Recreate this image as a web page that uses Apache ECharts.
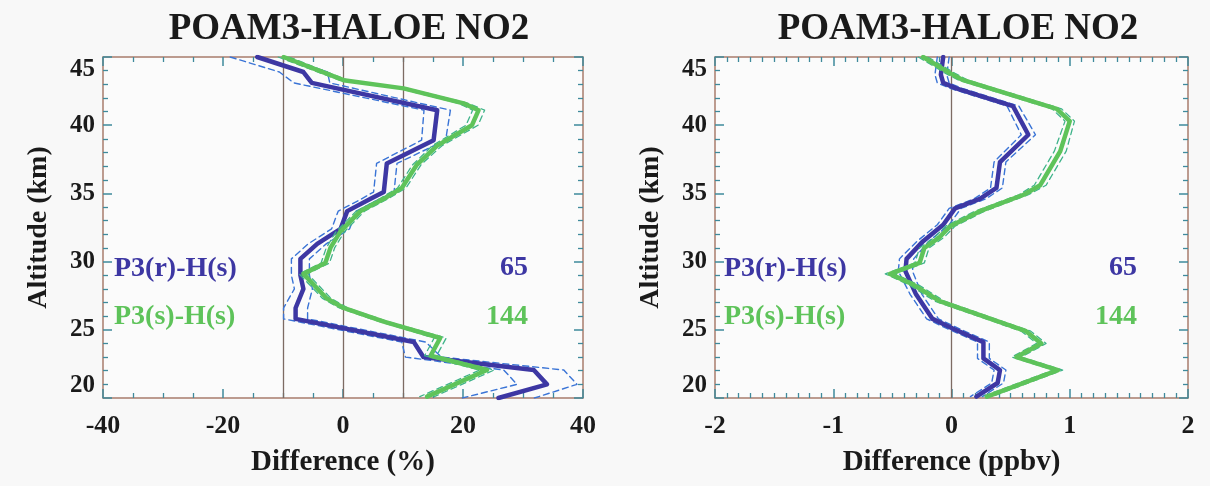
<!DOCTYPE html>
<html><head><meta charset="utf-8">
<script src="https://cdn.jsdelivr.net/npm/echarts@6/dist/echarts.min.js"></script>
<style>html,body{margin:0;padding:0;background:#f8f8f8}#c{width:1210px;height:486px}</style>
</head><body><div id="c"></div>
<script>
// ---------- data ----------
// Left panel: relative difference (%)
const blueAltL = [45.0, 43.9, 43.1, 41.1, 38.9, 37.2, 35.1, 34.6, 33.7, 32.4, 31.3, 30.2, 29.0, 28.0, 26.6, 25.8, 24.1, 23.0, 22.05, 21.0, 20.0];
const blueValL = [-14.3, -6.6, -5.2, 15.7, 15.1, 7.3, 6.8, 4.6, 0.7, -0.4, -4.3, -7.1, -7.1, -6.6, -7.9, -7.9, 11.8, 13.4, 31.8, 34.0, 25.9];
const blueErrL = [4.5, 4.0, 3.0, 2.2, 2.0, 1.7, 1.7, 1.5, 1.5, 1.5, 1.5, 1.5, 1.5, 1.5, 2.0, 2.0, 2.0, 3.0, 5.0, 5.0, 6.0];

const greenAltL = [45.0, 43.3, 42.7, 41.6, 41.1, 40.0, 38.5, 37.1, 35.4, 34.6, 33.7, 32.2, 31.0, 29.9, 29.1, 27.3, 26.6, 25.6, 24.4, 23.1, 22.05, 20.1];
const greenValL = [-9.9, 0.1, 10.1, 20.1, 22.6, 21.5, 15.7, 12.3, 9.8, 6.8, 2.9, -0.45, -2.1, -2.95, -6.6, -2.7, 0.1, 6.8, 16.2, 14.6, 24.0, 14.0];
const greenErrL = [0.9, 0.7, 0.7, 0.8, 1.0, 1.0, 0.8, 0.7, 0.7, 0.7, 0.7, 0.7, 0.7, 0.7, 0.7, 0.7, 0.7, 0.7, 1.0, 1.0, 1.2, 1.2];

// Right panel: absolute difference (ppbv)
const blueAltR = [45.0, 43.7, 43.1, 42.7, 41.4, 39.3, 37.3, 35.4, 34.6, 33.9, 32.7, 31.5, 30.2, 29.3, 27.6, 25.8, 25.1, 24.1, 22.9, 22.05, 21.1, 20.1];
const blueValR = [-0.07, -0.09, -0.07, 0.04, 0.52, 0.65, 0.41, 0.38, 0.24, 0.03, -0.07, -0.24, -0.38, -0.39, -0.30, -0.16, 0.01, 0.27, 0.27, 0.41, 0.39, 0.21];
const blueErrR = [0.05, 0.05, 0.05, 0.05, 0.05, 0.06, 0.05, 0.05, 0.05, 0.05, 0.05, 0.05, 0.06, 0.06, 0.05, 0.05, 0.05, 0.05, 0.05, 0.05, 0.05, 0.05];

const greenAltR = [45.0, 43.8, 43.3, 41.2, 40.3, 38.1, 35.6, 34.9, 33.7, 32.6, 31.8, 31.0, 29.9, 29.1, 28.3, 27.1, 24.9, 24.0, 23.0, 22.05, 20.1];
const greenValR = [-0.24, -0.01, 0.1, 0.89, 1.0, 0.92, 0.75, 0.61, 0.24, -0.01, -0.1, -0.23, -0.27, -0.52, -0.32, -0.1, 0.63, 0.76, 0.55, 0.9, 0.30];
const greenErrR = [0.04, 0.04, 0.04, 0.04, 0.04, 0.05, 0.05, 0.04, 0.04, 0.04, 0.04, 0.04, 0.04, 0.04, 0.04, 0.04, 0.04, 0.04, 0.04, 0.04, 0.04];

const refLinesL = [-10, 0, 10];
const refLinesR = [0];
const titleText = 'POAM3-HALOE NO2';
const xNameL = 'Difference (%)';
const xNameR = 'Difference (ppbv)';
const yName = 'Altitude (km)';
const label1 = 'P3(r)-H(s)', count1 = '65';
const label2 = 'P3(s)-H(s)', count2 = '144';

// ---------- styling ----------
const BLUE = '#3d37a3', BLUE_D = '#3a74d6', GREEN = '#5ec35a', GREEN_D = '#3fb38a';
const FONT = '"Liberation Serif", "Times New Roman", serif';
const BOX = '#a87c6c', TICK = '#3f8a9c', REF = '#7d6b63', INK = '#1a1a1a';

function pts(v, a, sign, e) { return v.map((x, i) => [e ? x + sign * e[i] : x, a[i]]); }

function lineSeries(grid, data, color, width, dashed, z) {
  return { type: 'line', xAxisIndex: grid * 2, yAxisIndex: grid * 2, data: data,
    showSymbol: false, symbol: 'none', silent: true, z: z, animation: false,
    lineStyle: { color: color, width: width, type: dashed ? [6, 4] : 'solid', join: 'round', cap: 'round' } };
}

function panel(g, bv, ba, be, gv, ga, ge, refs) {
  const s = [];
  s.push(lineSeries(g, pts(bv, ba, -1, be), BLUE_D, 1.4, true, 3));
  s.push(lineSeries(g, pts(bv, ba, 1, be), BLUE_D, 1.4, true, 3));
  const mb = lineSeries(g, pts(bv, ba), BLUE, 4.5, false, 4);
  mb.markLine = { silent: true, symbol: ['none', 'none'], label: { show: false }, animation: false,
    lineStyle: { color: REF, width: 1.3, type: 'solid' }, z: 1,
    data: refs.map(r => ({ xAxis: r })) };
  s.push(mb);
  s.push(lineSeries(g, pts(gv, ga, -1, ge), GREEN_D, 1.3, true, 5));
  s.push(lineSeries(g, pts(gv, ga, 1, ge), GREEN_D, 1.3, true, 5));
  s.push(lineSeries(g, pts(gv, ga), GREEN, 4.5, false, 6));
  return s;
}

function xAxes(g, min, max, interval, minorSplit, name) {
  const base = { type: 'value', gridIndex: g, min: min, max: max, interval: interval,
    splitLine: { show: false },
    axisLine: { show: true, onZero: false, lineStyle: { color: BOX, width: 1.5 } },
    axisTick: { show: true, inside: true, length: 9, lineStyle: { color: TICK, width: 1.5 } },
    minorTick: { show: true, splitNumber: minorSplit, length: 5, lineStyle: { color: TICK, width: 1.3 } } };
  return [
    Object.assign({}, base, { position: 'bottom', name: name, nameLocation: 'middle', nameGap: 50,
      nameTextStyle: { fontFamily: FONT, fontWeight: 'bold', fontSize: 29, color: INK },
      axisLabel: { show: true, margin: 15, fontFamily: FONT, fontWeight: 'bold', fontSize: 26, color: INK } }),
    Object.assign({}, base, { position: 'top', axisLabel: { show: false } })
  ];
}

function yAxes(g) {
  const base = { type: 'value', gridIndex: g, min: 20, max: 45, interval: 5,
    splitLine: { show: false },
    axisLine: { show: true, onZero: false, lineStyle: { color: BOX, width: 1.5 } },
    axisTick: { show: true, inside: true, length: 9, lineStyle: { color: TICK, width: 1.5 } },
    minorTick: { show: true, splitNumber: 5, length: 5, lineStyle: { color: TICK, width: 1.3 } } };
  return [
    Object.assign({}, base, { position: 'left', name: yName, nameLocation: 'middle', nameGap: 50,
      nameTextStyle: { fontFamily: FONT, fontWeight: 'bold', fontSize: 28, color: INK },
      axisLabel: { show: true, margin: 8, fontFamily: FONT, fontWeight: 'bold', fontSize: 25, color: INK,
        verticalAlignMinLabel: 'bottom', verticalAlignMaxLabel: 'top' } }),
    Object.assign({}, base, { position: 'right', axisLabel: { show: false } })
  ];
}

const xa = [].concat(xAxes(0, -40, 40, 20, 4, xNameL), xAxes(1, -2, 2, 1, 10, xNameR));
const ya = [].concat(yAxes(0), yAxes(1));

function txt(x, y, s, color, align) {
  return { type: 'text', x: x, y: y, silent: true,
    style: { text: s, fill: color, font: 'bold 28px ' + FONT, textAlign: align, textVerticalAlign: 'middle' } };
}

const option = {
  backgroundColor: '#f8f8f8',
  animation: false,
  title: [
    { text: titleText, left: 344, top: 6, textAlign: 'center',
      textStyle: { fontFamily: FONT, fontWeight: 'bold', fontSize: 37, color: INK } },
    { text: titleText, left: 953, top: 6, textAlign: 'center',
      textStyle: { fontFamily: FONT, fontWeight: 'bold', fontSize: 37, color: INK } }
  ],
  grid: [
    { left: 103, top: 57, width: 480, height: 341, show: true, backgroundColor: '#fbfbfb', borderWidth: 0 },
    { left: 715, top: 57, width: 473, height: 341, show: true, backgroundColor: '#fbfbfb', borderWidth: 0 }
  ],
  xAxis: xa,
  yAxis: ya,
  series: [].concat(
    panel(0, blueValL, blueAltL, blueErrL, greenValL, greenAltL, greenErrL, refLinesL),
    panel(1, blueValR, blueAltR, blueErrR, greenValR, greenAltR, greenErrR, refLinesR)
  ),
  graphic: [
    txt(114, 269, label1, BLUE, 'left'), txt(528, 268, count1, BLUE, 'right'),
    txt(114, 317, label2, GREEN, 'left'), txt(528, 317, count2, GREEN, 'right'),
    txt(724, 269, label1, BLUE, 'left'), txt(1137, 268, count1, BLUE, 'right'),
    txt(724, 317, label2, GREEN, 'left'), txt(1137, 317, count2, GREEN, 'right')
  ]
};
const chart = echarts.init(document.getElementById('c'), null, { renderer: 'canvas' });
chart.setOption(option);
</script></body></html>
